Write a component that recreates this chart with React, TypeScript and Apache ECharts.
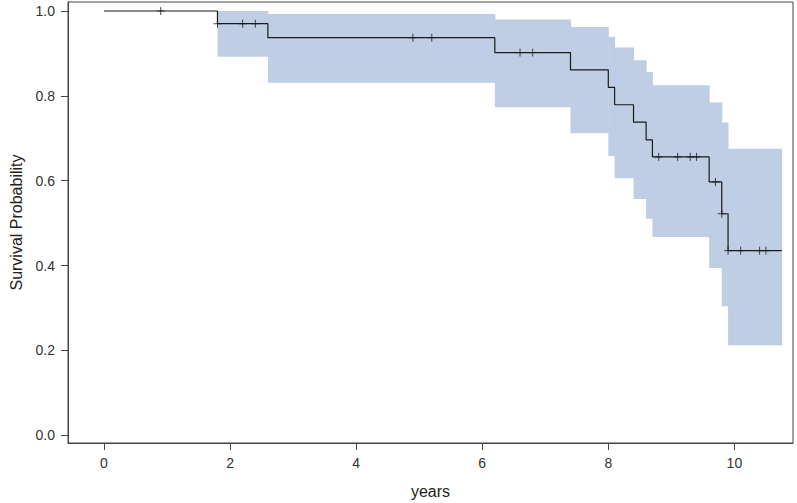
import React, { useEffect, useRef } from "react";
import * as echarts from "echarts";

// Kaplan-Meier step curve: time at which level starts, survival level
const stepTimes = [0, 1.8, 2.6, 6.2, 7.4, 8.0, 8.1, 8.4, 8.6, 8.7, 9.6, 9.8, 9.9, 10.75];
const survival = [1.0, 0.97, 0.937, 0.902, 0.861, 0.82, 0.779, 0.738, 0.696, 0.656, 0.597, 0.522, 0.435, 0.435];

// Confidence band: interval start, interval end, lower, upper
const bandStart = [1.8, 2.6, 6.2, 7.4, 8.0, 8.1, 8.4, 8.6, 8.7, 9.6, 9.8, 9.9];
const bandEnd = [2.6, 6.2, 7.4, 8.0, 8.1, 8.4, 8.6, 8.7, 9.6, 9.8, 9.9, 10.75];
const bandLower = [0.892, 0.831, 0.773, 0.712, 0.658, 0.606, 0.557, 0.51, 0.467, 0.394, 0.304, 0.212];
const bandUpper = [1.0, 0.993, 0.98, 0.962, 0.939, 0.914, 0.884, 0.856, 0.825, 0.784, 0.737, 0.675];

// Censored observations
const censorTimes = [0.9, 1.8, 2.2, 2.4, 4.9, 5.2, 6.6, 6.8, 8.8, 9.1, 9.3, 9.4, 9.7, 9.8, 9.9, 10.1, 10.4, 10.5];
const censorSurv = [1.0, 0.97, 0.97, 0.97, 0.937, 0.937, 0.902, 0.902, 0.656, 0.656, 0.656, 0.656, 0.597, 0.522, 0.435, 0.435, 0.435, 0.435];

const xTicks = [0, 2, 4, 6, 8, 10];
const yTicks = [0, 0.2, 0.4, 0.6, 0.8, 1.0];

export default function App() {
  const ref = useRef<HTMLDivElement>(null);
  useEffect(() => {
    if (!ref.current) return;
    const chart = echarts.init(ref.current, null, { renderer: "svg" });
    const font = "Liberation Sans, Arial, sans-serif";
    const bandData = bandStart.map((s, i) => [s, bandEnd[i], bandLower[i], bandUpper[i]]);
    chart.setOption({
      animation: false,
      backgroundColor: "#fff",
      grid: {
        left: 68,
        right: 4,
        top: 2,
        bottom: 60,
        containLabel: false,
        outerBoundsMode: "none",
        show: true,
        borderColor: "#444",
        borderWidth: 1,
        backgroundColor: "transparent",
      },
      xAxis: {
        type: "value",
        min: -0.571,
        max: 10.93,
        name: "years",
        nameLocation: "middle",
        nameGap: 40,
        nameTextStyle: { fontFamily: font, fontSize: 16, color: "#222" },
        splitLine: { show: false },
        axisLine: { show: true, onZero: false, lineStyle: { color: "#444", width: 1 } },
        axisTick: { show: true, length: 7, customValues: xTicks, lineStyle: { color: "#444" } },
        axisLabel: {
          customValues: xTicks,
          fontFamily: font,
          fontSize: 14,
          color: "#333",
          margin: 13,
          formatter: (v: number) => String(v),
        },
      },
      yAxis: {
        type: "value",
        min: -0.0184,
        max: 1.0212,
        name: "Survival Probability",
        nameLocation: "middle",
        nameGap: 44,
        nameTextStyle: { fontFamily: font, fontSize: 16, color: "#222" },
        splitLine: { show: false },
        axisLine: { show: true, onZero: false, lineStyle: { color: "#444", width: 1 } },
        axisTick: { show: true, length: 7, customValues: yTicks, lineStyle: { color: "#444" } },
        axisLabel: {
          customValues: yTicks,
          fontFamily: font,
          fontSize: 14,
          color: "#333",
          margin: 13,
          formatter: (v: number) => v.toFixed(1),
        },
      },
      series: [
        {
          type: "custom",
          data: bandData,
          silent: true,
          z: 1,
          renderItem: (params: any, api: any) => {
            const p1 = api.coord([api.value(0), api.value(3)]);
            const p2 = api.coord([api.value(1), api.value(2)]);
            return {
              type: "rect",
              shape: { x: p1[0], y: p1[1], width: p2[0] - p1[0] + 0.5, height: p2[1] - p1[1] },
              style: { fill: "#BFCEE5", stroke: null },
            };
          },
        },
        {
          type: "line",
          step: "end",
          data: stepTimes.map((t, i) => [t, survival[i]]),
          showSymbol: false,
          symbol: "none",
          z: 3,
          lineStyle: { color: "#1a1a1a", width: 1.2 },
        },
        {
          type: "scatter",
          data: censorTimes.map((t, i) => [t, censorSurv[i]]),
          symbol: "path://M5,0 L5,10 M0,5 L10,5",
          symbolSize: [8, 8],
          z: 4,
          itemStyle: { color: "none", borderColor: "#1a1a1a", borderWidth: 1 },
        },
      ],
    });
    return () => chart.dispose();
  }, []);
  return (
    <div
      ref={ref}
      style={{ position: "fixed", left: 0, top: 0, width: 797, height: 503, background: "#fff" }}
    />
  );
}
